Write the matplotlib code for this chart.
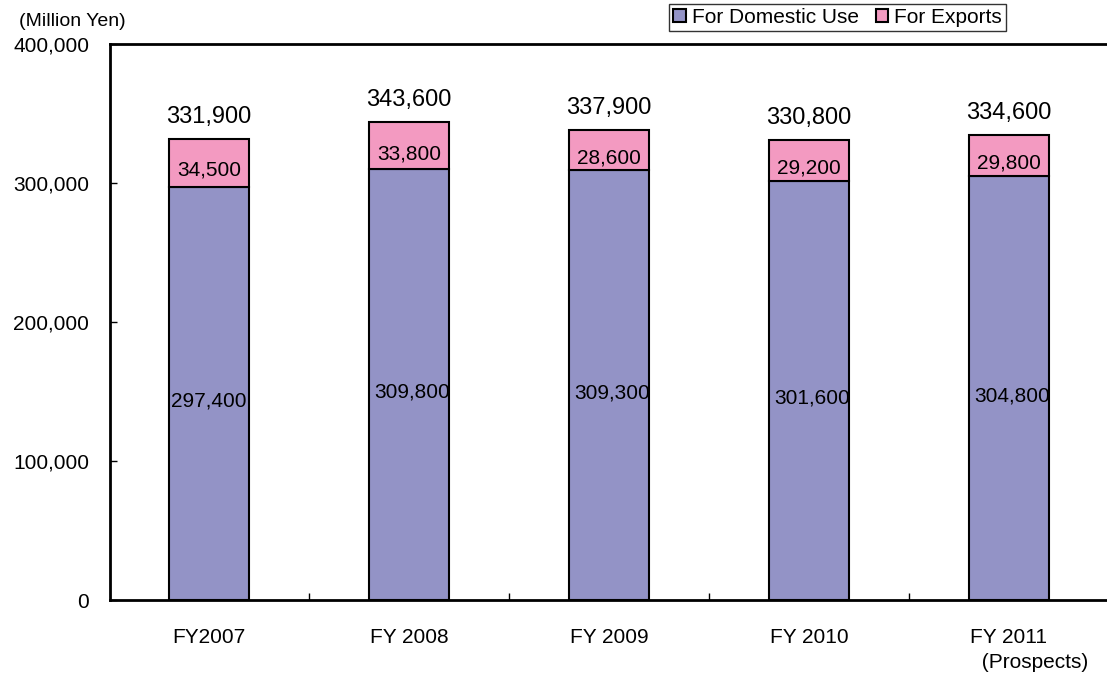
import matplotlib.pyplot as plt
from matplotlib.patches import Patch
from matplotlib.ticker import FuncFormatter

plt.rcParams['font.family'] = ['Liberation Sans', 'DejaVu Sans']

years = ["FY2007", "FY 2008", "FY 2009", "FY 2010", "FY 2011\n" + " " * 9 + "(Prospects)"]
domestic = [297400, 309800, 309300, 301600, 304800]
exports = [34500, 33800, 28600, 29200, 29800]
totals = [331900, 343600, 337900, 330800, 334600]

c_dom = "#9393C6"
c_exp = "#F39AC1"

fig = plt.figure(figsize=(11.07, 6.76), dpi=100)
ax = fig.add_axes([110 / 1107, 76 / 676, 997 / 1107, 556 / 676])

x = list(range(len(years)))
ax.bar(x, domestic, width=0.4, color=c_dom, edgecolor="black", linewidth=1.5)
ax.bar(x, exports, width=0.4, bottom=domestic, color=c_exp, edgecolor="black", linewidth=1.5)

# value labels
for i in x:
    ax.text(i, totals[i] + 8000, f"{totals[i]:,}", ha="center", va="bottom", fontsize=17)
    ax.text(i, domestic[i] + exports[i] / 2 - 5500, f"{exports[i]:,}", ha="center", va="center", fontsize=15)
    ax.text(i + (0.015 if i else 0), domestic[i] / 2 - 5500, f"{domestic[i]:,}",
            ha="center", va="center", fontsize=15)

ax.set_xlim(-0.495, 4.49)
ax.set_ylim(0, 400000)
ax.set_yticks([0, 100000, 200000, 300000, 400000])
ax.yaxis.set_major_formatter(FuncFormatter(lambda v, p: f"{int(v):,}"))
ax.set_xticks(x)
ax.set_xticklabels(years, linespacing=1.4)
ax.set_xticks([0.5, 1.5, 2.5, 3.5], minor=True)
ax.tick_params(axis="x", which="major", length=0, pad=20, labelsize=15)
ax.tick_params(axis="x", which="minor", direction="in", length=5, width=1)
ax.tick_params(axis="y", direction="in", length=5, width=1, pad=15, labelsize=15)

ax.spines["right"].set_visible(False)
for s in ["left", "top", "bottom"]:
    ax.spines[s].set_linewidth(2)

fig.text(19 / 1107, 1 - 22 / 676, "(Million Yen)", fontsize=14, va="center", ha="left")

handles = [Patch(facecolor=c_dom, edgecolor="black", linewidth=1.5, label="For Domestic Use"),
           Patch(facecolor=c_exp, edgecolor="black", linewidth=1.5, label="For Exports")]
leg = fig.legend(handles=handles, loc="upper left", bbox_to_anchor=(669 / 1107, 1 - 4 / 676),
                 ncol=2, fontsize=15, frameon=True, fancybox=False, borderaxespad=0,
                 handlelength=0.6, handleheight=0.6, handletextpad=0.3, columnspacing=0.8,
                 borderpad=0.2)
leg.get_frame().set_edgecolor("black")
leg.get_frame().set_linewidth(1)

fig.savefig("out.png", dpi=100)
